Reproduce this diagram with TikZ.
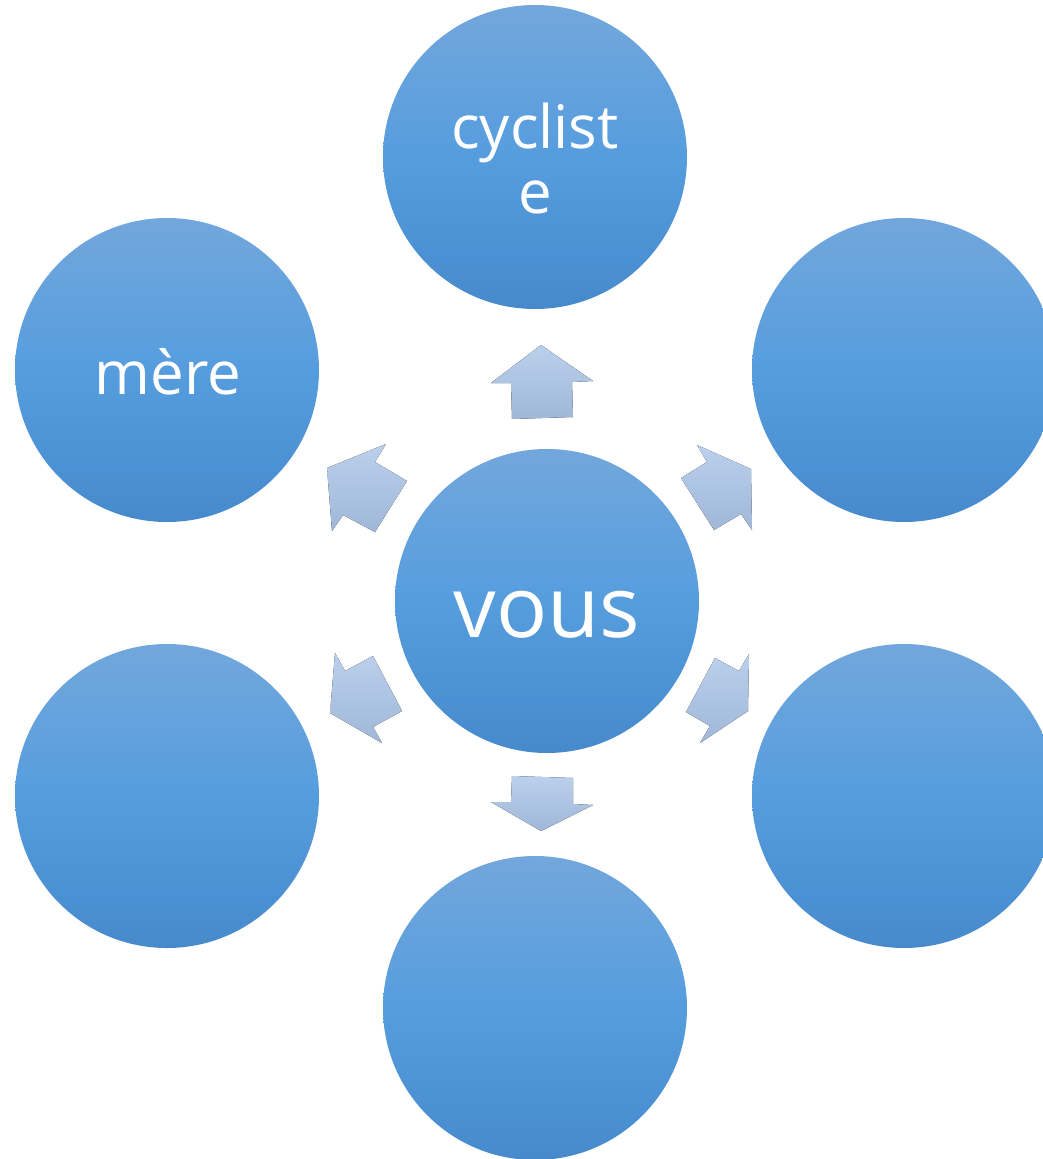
\documentclass[tikz,border=0pt]{standalone}
\usepackage{fontspec}
\setmainfont{Open Sans}
\definecolor{ctop}{RGB}{114,167,220}
\definecolor{cmid}{RGB}{86,157,222}
\definecolor{cbot}{RGB}{70,138,204}
\definecolor{atop}{RGB}{186,208,236}
\definecolor{abot}{RGB}{160,183,216}
\tikzset{
  circ/.style={circle, minimum size=304pt, inner sep=0pt, top color=ctop, bottom color=cbot, middle color=cmid, draw=none},
  lbl/.style={text=white, anchor=base, align=center, inner sep=0pt},
  blockarrow/.style={top color=atop, bottom color=abot, draw=none}
}
\begin{document}
\begin{tikzpicture}[x=1pt,y=-1pt]
\useasboundingbox (0,0) rectangle (1043,1159);
\clip (0,0) rectangle (1043,1159);
% circles
\node[circ] (ctop) at (535,157) {};
\node[circ] (cmere) at (167,370) {};
\node[circ] (crt) at (904,370) {};
\node[circ] (cvous) at (547,601) {};
\node[circ] (clb) at (167,796) {};
\node[circ] (crb) at (904,796) {};
\node[circ] (cbot) at (535,1008) {};
% labels
\node[lbl, font=\fontsize{60}{65}\selectfont] (tcyc) at (535,213) {cyclist\\e};
\node[lbl, font=\fontsize{60}{65}\selectfont] (tmere) at (168,394) {mère};
\node[lbl, font=\fontsize{85}{90}\selectfont] (tvous) at (547,637) {vous};
% block arrows
\fill[blockarrow] (541,345) -- (593,381) -- (572,382) -- (573,417) -- (512,419) -- (511,383) -- (491,383) -- cycle;
\fill[blockarrow] (327,468) -- (386,444) -- (375,462) -- (407,481) -- (375,532) -- (343,515) -- (332,531) -- cycle;
\fill[blockarrow] (751,469) -- (697,445) -- (707,462) -- (681,478) -- (714,530) -- (741,514) -- (752,530) -- cycle;
\fill[blockarrow] (330,713) -- (335,653) -- (345,671) -- (373,656) -- (402,711) -- (373,727) -- (382,743) -- cycle;
\fill[blockarrow] (748,711) -- (749,654) -- (739,671) -- (715,658) -- (686,712) -- (710,726) -- (700,743) -- cycle;
\fill[blockarrow] (541,831) -- (593,805) -- (573,804) -- (573,778) -- (512,776) -- (511,802) -- (491,802) -- cycle;
\end{tikzpicture}
\end{document}
